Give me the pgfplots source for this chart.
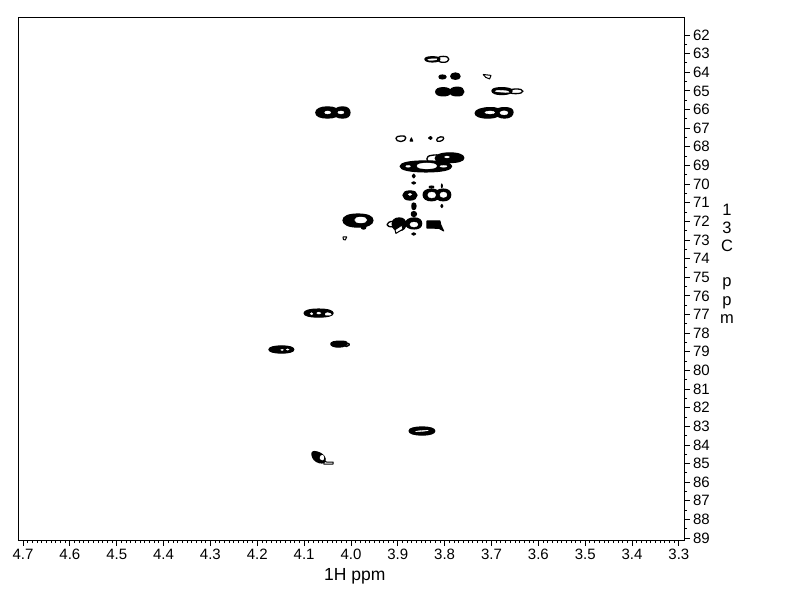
\documentclass[border=0pt]{standalone}
\usepackage{pgfplots}
\pgfplotsset{compat=1.18}
\usepackage{fontspec}
\setmainfont{Liberation Sans}
\pgfplotsset{
 ct/.style={black,line width=1.3bp,smooth cycle,tension=1.12,no markers,line join=round},
 cf/.style={black,fill=black,line width=1.2bp,smooth cycle,tension=1.12,no markers,line join=round},
 ch/.style={draw=white,fill=white,line width=0.3bp,smooth cycle,tension=1.1,no markers},
 cs/.style={black,line width=1bp,sharp plot,no markers,line join=round},
 cw/.style={black,fill=white,line width=1bp,sharp plot,no markers,line join=round},
 ck/.style={black,fill=black,line width=1bp,sharp plot,no markers,line join=round},
}
\begin{document}
\begin{tikzpicture}[x=1bp,y=1bp]
\path[use as bounding box] (-18.5,-71.3) rectangle (773.5,540.7);
\begin{axis}[
 at={(0,0)},anchor=south west,
 scale only axis,width=666bp,height=522.7bp,
 x dir=reverse,y dir=reverse,
 xmin=3.288,xmax=4.7096,ymin=61.09,ymax=89.14,
 xtick={3.3,3.4,3.5,3.6,3.7,3.8,3.9,4.0,4.1,4.2,4.3,4.4,4.5,4.6,4.7},
 ytick={62,63,64,65,66,67,68,69,70,71,72,73,74,75,76,77,78,79,80,81,82,83,84,85,86,87,88,89},
 minor x tick num=9,minor y tick num=1,
 xtick pos=lower,ytick pos=right,yticklabel pos=right,
 tick align=outside,
 major tick length=5bp,minor tick length=2.5bp,
 axis line style={line width=1bp},
 every tick/.style={black,line width=0.8bp},
 tick label style={font=\fontsize{15bp}{17bp}\selectfont},
 xticklabel style={/pgf/number format/.cd,fixed,fixed zerofill,precision=1,assume math mode=true},
 yticklabel style={/pgf/number format/.cd,fixed,precision=0,assume math mode=true},
 scaled x ticks=false,
 xlabel={1H ppm},
 xlabel style={font=\fontsize{17.5bp}{19bp}\selectfont,at={(axis description cs:0.505,-0.0685)},anchor=center},
 ylabel={1\\[1.8bp]3\\[1.8bp]C\\[18.5bp]p\\[1.8bp]p\\[1.8bp]m},
 ylabel style={rotate=-90,align=center,font=\fontsize{16.5bp}{16.5bp}\selectfont,at={(axis description cs:1.0638,0.53)},anchor=center},
]
% 63.3
\addplot[cf] coordinates {(3.842,63.30)(3.826,63.17)(3.810,63.30)(3.826,63.45)};
\addplot[ch] coordinates {(3.836,63.33)(3.826,63.28)(3.814,63.30)(3.826,63.36)};
\addplot[ct] coordinates {(3.815,63.30)(3.803,63.15)(3.791,63.30)(3.803,63.47)};
% 64.2
\addplot[cf] coordinates {(3.812,64.25)(3.805,64.15)(3.797,64.25)(3.805,64.36)};
\addplot[cf] coordinates {(3.787,64.22)(3.777,64.04)(3.767,64.22)(3.777,64.38)};
\addplot[cs] coordinates {(3.718,64.12)(3.701,64.17)(3.704,64.36)(3.712,64.28)(3.718,64.12)};
% 65
\addplot[cf] coordinates {(3.819,65.05)(3.803,64.83)(3.787,65.05)(3.803,65.27)};
\addplot[cf] coordinates {(3.789,65.05)(3.773,64.80)(3.759,65.05)(3.773,65.27)};
\addplot[cf] coordinates {(3.699,65.00)(3.678,64.83)(3.656,65.00)(3.678,65.20)};
\addplot[ch] coordinates {(3.692,65.02)(3.678,64.97)(3.660,65.07)(3.678,65.07)};
\addplot[ct] coordinates {(3.662,65.03)(3.648,64.90)(3.633,65.02)(3.648,65.15)};
% 66 right
\addplot[cf] coordinates {(3.735,66.20)(3.705,65.90)(3.681,66.15)(3.705,66.46)};
\addplot[cf] coordinates {(3.692,66.15)(3.672,65.90)(3.654,66.15)(3.672,66.46)};
\addplot[ch] coordinates {(3.714,66.16)(3.703,66.08)(3.693,66.16)(3.703,66.24)};
\addplot[ch] coordinates {(3.682,66.18)(3.673,66.07)(3.665,66.18)(3.673,66.29)};
% 66 left
\addplot[cf] coordinates {(4.075,66.17)(4.050,65.86)(4.026,66.17)(4.050,66.46)};
\addplot[cf] coordinates {(4.036,66.17)(4.018,65.86)(4.002,66.17)(4.018,66.46)};
\addplot[ch] coordinates {(4.056,66.16)(4.050,66.08)(4.043,66.16)(4.050,66.24)};
\addplot[ch] coordinates {(4.028,66.16)(4.021,66.08)(4.015,66.16)(4.021,66.24)};
% 67.5
\addplot[ct] coordinates {(3.904,67.55)(3.893,67.42)(3.883,67.52)(3.893,67.72)};
\addplot[ck] coordinates {(3.874,67.70)(3.871,67.52)(3.868,67.70)(3.874,67.70)};
\addplot[cf] coordinates {(3.834,67.53)(3.830,67.45)(3.827,67.53)(3.830,67.60)};
\addplot[ct] coordinates {(3.817,67.63)(3.809,67.47)(3.802,67.55)(3.810,67.71)};
% 68.5
\addplot[ct] coordinates {(3.838,68.65)(3.825,68.45)(3.805,68.55)(3.825,68.82)};
\addplot[cf] coordinates {(3.820,68.62)(3.790,68.33)(3.759,68.60)(3.790,68.85)};
\addplot[ch] coordinates {(3.800,68.55)(3.795,68.50)(3.790,68.55)(3.795,68.60)};
% 69
\addplot[cf] coordinates {(3.895,69.05)(3.840,68.76)(3.785,69.05)(3.840,69.35)};
\addplot[ch] coordinates {(3.859,69.03)(3.838,68.87)(3.817,69.03)(3.838,69.19)};
\addplot[ch] coordinates {(3.883,69.05)(3.878,69.00)(3.873,69.05)(3.878,69.10)};
\addplot[ch] coordinates {(3.810,69.05)(3.802,69.00)(3.795,69.05)(3.802,69.10)};
% dots
\addplot[cf] coordinates {(3.869,69.57)(3.866,69.47)(3.863,69.57)(3.866,69.67)};
\addplot[cf] coordinates {(3.870,69.94)(3.866,69.88)(3.862,69.94)(3.866,70.00)};
\addplot[cf] coordinates {(3.870,71.18)(3.866,71.02)(3.861,71.18)(3.866,71.38)};
\addplot[cf] coordinates {(3.871,71.61)(3.866,71.48)(3.860,71.61)(3.866,71.74)};
\addplot[cf] coordinates {(3.870,72.68)(3.866,72.62)(3.862,72.68)(3.866,72.74)};
% 70.5
\addplot[cf] coordinates {(3.889,70.60)(3.874,70.37)(3.859,70.60)(3.874,70.86)};
\addplot[ch] coordinates {(3.878,70.55)(3.874,70.50)(3.870,70.55)(3.874,70.62)};
\addplot[cf] coordinates {(3.846,70.58)(3.828,70.27)(3.812,70.58)(3.828,70.90)};
\addplot[cf] coordinates {(3.820,70.58)(3.803,70.27)(3.787,70.58)(3.803,70.90)};
\addplot[ch] coordinates {(3.836,70.59)(3.8275,70.43)(3.819,70.59)(3.8275,70.75)};
\addplot[ch] coordinates {(3.810,70.58)(3.8025,70.43)(3.795,70.58)(3.8025,70.72)};
\addplot[cf] coordinates {(3.833,70.16)(3.828,70.11)(3.823,70.16)(3.828,70.21)};
\addplot[cf] coordinates {(3.807,70.10)(3.806,70.00)(3.805,70.10)(3.806,70.20)};
\addplot[cf] coordinates {(3.808,71.18)(3.806,71.10)(3.804,71.18)(3.806,71.26)};
% 72 left
\addplot[cf] coordinates {(4.017,71.95)(3.985,71.61)(3.953,71.95)(3.985,72.31)};
\addplot[ch] coordinates {(3.992,71.93)(3.979,71.77)(3.966,71.93)(3.979,72.09)};
\addplot[cf] coordinates {(3.978,72.30)(3.973,72.20)(3.968,72.30)(3.973,72.42)};
% 72 centre
\addplot[ct] coordinates {(3.923,72.18)(3.910,72.00)(3.900,72.18)(3.910,72.30)};
\addplot[cf] coordinates {(3.912,72.15)(3.897,71.82)(3.883,72.15)(3.897,72.50)};
\addplot[cf] coordinates {(3.883,72.12)(3.865,71.82)(3.849,72.12)(3.865,72.41)};
\addplot[ch] coordinates {(3.874,72.17)(3.8655,72.04)(3.857,72.17)(3.8655,72.31)};
\addplot[cw] coordinates {(3.906,72.45)(3.904,72.65)(3.889,72.42)(3.891,72.20)(3.906,72.45)};
\addplot[ck] coordinates {(3.838,71.98)(3.810,71.98)(3.808,72.20)(3.802,72.52)(3.812,72.38)(3.838,72.36)(3.838,71.98)};
\addplot[cs] coordinates {(4.017,72.84)(4.009,72.84)(4.012,73.00)(4.016,72.98)(4.017,72.84)};
% 77 - 79
\addplot[cf] coordinates {(4.100,76.93)(4.069,76.71)(4.038,76.93)(4.069,77.14)};
\addplot[ch] coordinates {(4.087,76.96)(4.084,76.90)(4.081,76.96)(4.084,77.02)};
\addplot[ch] coordinates {(4.073,76.93)(4.068,76.87)(4.064,76.93)(4.068,76.98)};
\addplot[ch] coordinates {(4.055,77.00)(4.050,76.90)(4.042,77.00)(4.050,77.04)};
\addplot[cf] coordinates {(4.175,78.88)(4.148,78.69)(4.122,78.88)(4.148,79.07)};
\addplot[ch] coordinates {(4.150,78.90)(4.147,78.86)(4.144,78.90)(4.147,78.94)};
\addplot[ch] coordinates {(4.138,78.88)(4.135,78.84)(4.132,78.88)(4.135,78.92)};
\addplot[cf] coordinates {(4.043,78.58)(4.025,78.43)(4.008,78.55)(4.025,78.75)};
\addplot[ct] coordinates {(4.012,78.60)(4.006,78.55)(4.004,78.65)(4.010,78.72)};
% 83 - 85
\addplot[cf] coordinates {(3.876,83.25)(3.848,83.04)(3.821,83.25)(3.848,83.47)};
\addplot[ch] coordinates {(3.862,83.28)(3.850,83.23)(3.835,83.22)(3.850,83.28)};
\addplot[cw] coordinates {(4.058,84.85)(4.052,84.92)(4.038,84.92)(4.038,85.03)(4.058,85.03)(4.058,84.85)};
\addplot[cf] coordinates {(4.083,84.55)(4.072,84.38)(4.055,84.75)(4.068,84.95)};
\addplot[ch] coordinates {(4.066,84.65)(4.060,84.55)(4.058,84.75)(4.063,84.80)};
\end{axis}
\end{tikzpicture}
\end{document}
